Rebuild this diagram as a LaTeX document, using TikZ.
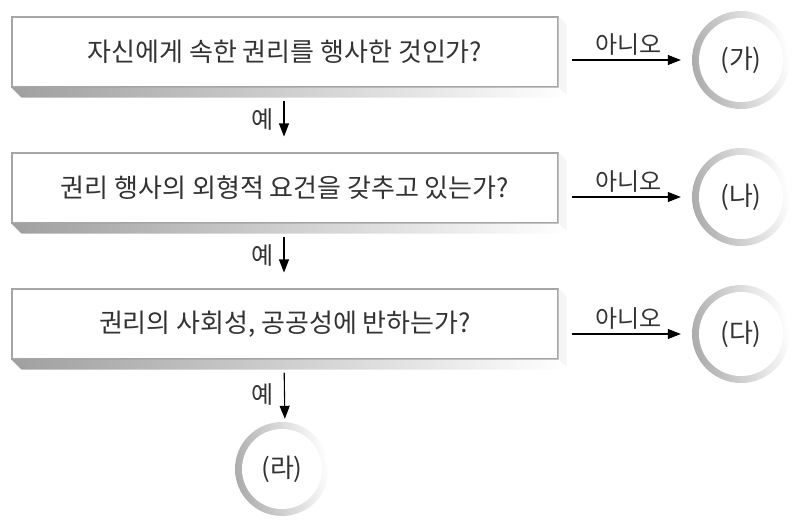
\documentclass[tikz,border=0pt]{standalone}
\usepackage{fontspec}
\setmainfont{Noto Sans CJK KR}
\usetikzlibrary{arrows.meta}
\tikzset{
	qbox/.style={draw=gray!70, line width=1.1pt, fill=white, minimum width=546pt, minimum height=70pt, inner sep=0pt, font=\fontsize{26}{30}\selectfont, text=black!80},
	qshadow/.style={left color=gray!75, right color=white},
	qside/.style={fill=gray!8},
	ringshade/.style={left color=gray!65, right color=white, shading angle=100},
	ringnode/.style={circle, fill=white, minimum size=84pt, inner sep=0pt, font=\fontsize{26}{30}\selectfont, text=black!80},
	arr/.style={line width=1.1pt, -{Triangle[length=13pt,width=10pt]}},
	lbl/.style={font=\fontsize{24}{28}\selectfont, text=black!80}
}
\begin{document}
\begin{tikzpicture}[x=1pt,y=-1pt]
	\useasboundingbox (0,0) rectangle (793,522);
	
	% question boxes
	\node[qbox] (q1) at (285,52) {자신에게 속한 권리를 행사한 것인가?};
	\node[qbox] (q2) at (285,188) {권리 행사의 외형적 요건을 갖추고 있는가?};
	\node[qbox] (q3) at (285,324) {권리의 사회성, 공공성에 반하는가?};
	\shade[qshadow] (q1.south west) -- (q1.south east) -- ++(10,10) -- ([xshift=10pt,yshift=-10pt]q1.south west) -- cycle;
	\shade[qshadow] (q2.south west) -- (q2.south east) -- ++(10,10) -- ([xshift=10pt,yshift=-10pt]q2.south west) -- cycle;
	\shade[qshadow] (q3.south west) -- (q3.south east) -- ++(10,10) -- ([xshift=10pt,yshift=-10pt]q3.south west) -- cycle;
	\fill[qside] (q1.north east) -- ++(8,8) -- ++(0,70) -- (q1.south east) -- cycle;
	\fill[qside] (q2.north east) -- ++(8,8) -- ++(0,70) -- (q2.south east) -- cycle;
	\fill[qside] (q3.north east) -- ++(8,8) -- ++(0,70) -- (q3.south east) -- cycle;
	
	% answer rings
	\shade[ringshade] (741,60) circle [radius=49];
	\node[ringnode] (ga) at (741,60) {(가)};
	\shade[ringshade] (741,197) circle [radius=49];
	\node[ringnode] (na) at (741,197) {(나)};
	\shade[ringshade] (741,334) circle [radius=49];
	\node[ringnode] (da) at (741,334) {(다)};
	\shade[ringshade] (282,469) circle [radius=47];
	\node[ringnode, minimum size=80pt] (ra) at (282,469) {(라)};
	
	% no
	\draw[arr, shorten <=13pt, shorten >=18pt] (q1.east |- ga.west) -- (ga.west) node [midway, above=1pt, lbl] {아니오};
	\draw[arr, shorten <=13pt, shorten >=18pt] (q2.east |- na.west) -- (na.west) node [midway, above=1pt, lbl] {아니오};
	\draw[arr, shorten <=13pt, shorten >=18pt] (q3.east |- da.west) -- (da.west) node [midway, above=1pt, lbl] {아니오};
	
	% yes
	\draw[arr, shorten <=13pt, shorten >=16pt] ([xshift=-1pt]q1.south) -- ([xshift=-1pt]q2.north) node [midway, left=7pt, lbl] {예};
	\draw[arr, shorten <=13pt, shorten >=16pt] ([xshift=-1pt]q2.south) -- ([xshift=-1pt]q3.north) node [midway, left=7pt, lbl] {예};
	\draw[arr, shorten <=13pt, shorten >=10pt] ([xshift=-1pt]q3.south) -- (ra.north -| q3.south) node [midway, left=7pt, lbl] {예};
\end{tikzpicture}
\end{document}
